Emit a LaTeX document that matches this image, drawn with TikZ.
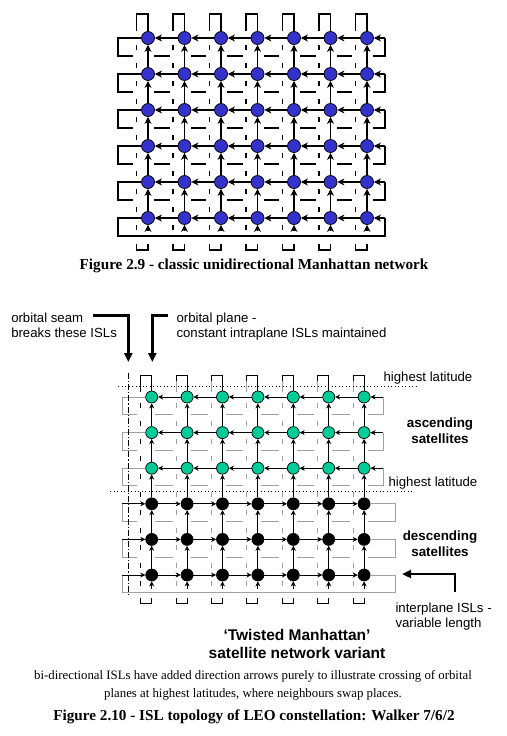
\documentclass[tikz,border=0pt]{standalone}
\usepackage{fontspec}
\setmainfont{Liberation Serif}
\setsansfont{Liberation Sans}
\usetikzlibrary{arrows.meta,positioning,calc}

\definecolor{satblue}{RGB}{51,51,204}
\definecolor{satgreen}{RGB}{0,204,153}
\definecolor{backgray}{RGB}{160,160,160}

\begin{document}
\begin{tikzpicture}[x=1pt, y=-1pt, line width=1.1pt,
    sat/.style={circle, draw=black, line width=0.7pt, inner sep=0pt, minimum size=13pt},
    isl/.style={-{Stealth[length=7pt,width=7pt,inset=2pt]}},
    isls/.style={line width=0.9pt, -{Stealth[length=5pt,width=5pt,inset=1.5pt]}},
    wrapline/.style={dash pattern=on 4.5pt off 13.5pt},
    wraplines/.style={line width=0.9pt, dash pattern=on 5pt off 12.8pt},
    latline/.style={line width=0.9pt, dash pattern=on 1.2pt off 2.3pt},
    seamline/.style={line width=0.9pt, dash pattern=on 6pt off 2pt on 1.2pt off 2pt},
    callout/.style={line width=2.6pt, -{Triangle[length=9pt,width=8pt]}},
    lbl/.style={font=\sffamily\fontsize{13.2}{15}\selectfont, inner sep=0pt},
    blbl/.style={font=\sffamily\bfseries\fontsize{13.4}{16}\selectfont, inner sep=0pt, align=center},
    caption/.style={font=\bfseries\fontsize{15.2}{17}\selectfont, inner sep=0pt}]
\fill[white] (0,0) rectangle (506,736);
\useasboundingbox (0,0) rectangle (506,736);

% ---- Figure 2.9: classic unidirectional Manhattan network
\foreach \r in {1,...,6}
  \foreach \c in {1,...,7}
    \node[sat, fill=satblue] (m-\r-\c) at ({148+36.5*(\c-1)},{38+36*(\r-1)}) {};

% row wrap-around, behind the grid
\foreach \r in {1,...,6} {
  \pgfmathsetmacro\ya{38+36*(\r-1)}
  \pgfmathsetmacro\yb{\ya+18}
  \coordinate (mr-\r) at (385,\ya);
  \draw (m-\r-1) -- (118,\ya) -- (118,\yb) -- (385,\yb) -- (mr-\r);
  \ifnum\r<6
    \foreach \c in {1,...,7}
      \fill[white] ({148+36.5*(\c-1)-15},{\yb-2}) rectangle ({148+36.5*(\c-1)+6},{\yb+2});
  \fi
}

% plane wrap-around and intraplane ISLs
\foreach \c in {1,...,7} {
  \pgfmathsetmacro\xa{148+36.5*(\c-1)}
  \pgfmathsetmacro\xb{\xa-11.5}
  \draw (\xb,31) -- (\xb,14) -- (\xa,14) -- (m-1-\c);
  \draw[wrapline] (\xb,45) -- (\xb,232);
  \draw (\xb,244) -- (\xb,250) -- (\xa,250) -- (\xa,244);
  \coordinate (mb-\c) at (\xa,231);
  \draw[isl] (mb-\c) -- (m-6-\c);
  \foreach \r [evaluate=\r as \n using int(\r+1)] in {1,...,5}
    \draw[isl] (m-\n-\c) -- (m-\r-\c);
}

% interplane ISLs
\foreach \r in {1,...,6} {
  \draw[isl] (mr-\r) -- (m-\r-7);
  \foreach \c [evaluate=\c as \n using int(\c+1)] in {1,...,6}
    \draw[isl] (m-\r-\n) -- (m-\r-\c);
}

\node[caption, anchor=base] (cap1) at (254,269) {Figure 2.9 - classic unidirectional Manhattan network};

% ---- Figure 2.10: twisted Manhattan, Walker 7/6/2
\foreach \r in {1,...,6} {
  \ifnum\r<4 \def\sc{satgreen}\else\def\sc{black}\fi
  \foreach \c in {1,...,7}
    \node[sat, minimum size=12pt, fill=\sc] (t-\r-\c) at ({151.7+35.4*(\c-1)},{397+35.6*(\r-1)}) {};
}

% row wrap-around (grey, behind)
\foreach \r in {1,...,6} {
  \pgfmathsetmacro\ya{397+35.6*(\r-1)}
  \pgfmathsetmacro\yb{\ya+17.6}
  \ifnum\r<4
    \coordinate (tr-\r) at (383,\ya);
    \draw[backgray, line width=0.9pt] (t-\r-1) -- (122,\ya) -- (122,\yb) -- (383,\yb) -- (tr-\r);
  \else
    \coordinate (tr-\r) at (122,\ya);
    \draw[backgray, line width=0.9pt] (t-\r-7) -- (395,\ya) -- (395,\yb) -- (122,\yb) -- (tr-\r);
  \fi
  \ifnum\r<6
    \foreach \c in {1,...,7}
      \fill[white] ({151.7+35.4*(\c-1)-14.5},{\yb-2}) rectangle ({151.7+35.4*(\c-1)+3.5},{\yb+2});
  \fi
}

% plane wrap-around and intraplane ISLs
\foreach \c in {1,...,7} {
  \pgfmathsetmacro\xa{151.7+35.4*(\c-1)}
  \pgfmathsetmacro\xb{\xa-11}
  \ifnum\c=1 \def\wc{black}\else\def\wc{backgray}\fi
  \draw[line width=0.9pt] (\xb,381) -- (\xb,375) -- (\xa,375) -- (t-1-\c);
  \draw[draw=\wc, line width=0.9pt] (\xb,381) -- (\xb,392);
  \draw[draw=\wc, wraplines] (\xb,403) -- (\xb,596);
  \draw[line width=0.9pt] (\xb,598) -- (\xb,603) -- (\xa,603) -- (\xa,598);
  \coordinate (tb-\c) at (\xa,589);
  \draw[isls] (tb-\c) -- (t-6-\c);
  \foreach \r [evaluate=\r as \n using int(\r+1)] in {1,...,5}
    \draw[isls] (t-\n-\c) -- (t-\r-\c);
}

% interplane ISLs: ascending go left, descending go right
\foreach \r in {1,...,3} {
  \draw[isls] (tr-\r) -- (t-\r-7);
  \foreach \c [evaluate=\c as \n using int(\c+1)] in {1,...,6}
    \draw[isls] (t-\r-\n) -- (t-\r-\c);
}
\foreach \r in {4,...,6} {
  \draw[isls] (tr-\r) -- (t-\r-1);
  \foreach \c [evaluate=\c as \n using int(\c+1)] in {1,...,6}
    \draw[isls] (t-\r-\c) -- (t-\r-\n);
}

% highest latitude lines and orbital seam
\draw[latline] (118,386) -- (418,386);
\draw[latline] (110,491.5) -- (412,491.5);
\draw[seamline] (128,373) -- (128,596);

% labels
\node[lbl, anchor=base west, align=left] (seamlbl) at (10.7,337.5) {orbital seam\\breaks these ISLs};
\node[lbl, anchor=base west, align=left] (planelbl) at (176,337.5) {orbital plane -\\constant intraplane ISLs maintained};
\coordinate (seamfrom) at (93,315.7);
\coordinate (seamto) at (128.3,362);
\draw[callout] (seamfrom) -| (seamto);
\coordinate (planefrom) at (168,315.7);
\coordinate (planeto) at (152.3,362);
\draw[callout] (planefrom) -| (planeto);

\node[lbl, anchor=base west] (hl1) at (383,381) {highest latitude};
\node[blbl, anchor=base] (asc) at (440,443.5) {ascending\\satellites};
\node[lbl, anchor=base west] (hl2) at (388,486) {highest latitude};
\node[blbl, anchor=base] (desc) at (440,556) {descending\\satellites};

\node[lbl, anchor=base west, align=left] (ipl) at (395,627) {interplane ISLs -\\variable length};
\coordinate (iplfrom) at (455,592);
\coordinate (iplto) at (402,574);
\draw[callout] (iplfrom) |- (iplto);

\node[font=\sffamily\bfseries\fontsize{15.5}{18}\selectfont, align=center, anchor=base, inner sep=0pt] (title) at (297,658.5) {‘Twisted Manhattan’\\satellite network variant};
\node[font=\fontsize{12.8}{18}\selectfont, align=center, anchor=base, inner sep=0pt] (note) at (253,697) {bi-directional ISLs have added direction arrows purely to illustrate crossing of orbital\\planes at highest latitudes, where neighbours swap places.};
\node[caption, anchor=base] (cap2) at (254,720.5) {Figure 2.10 - ISL topology of LEO constellation: Walker 7/6/2};
\end{tikzpicture}
\end{document}
